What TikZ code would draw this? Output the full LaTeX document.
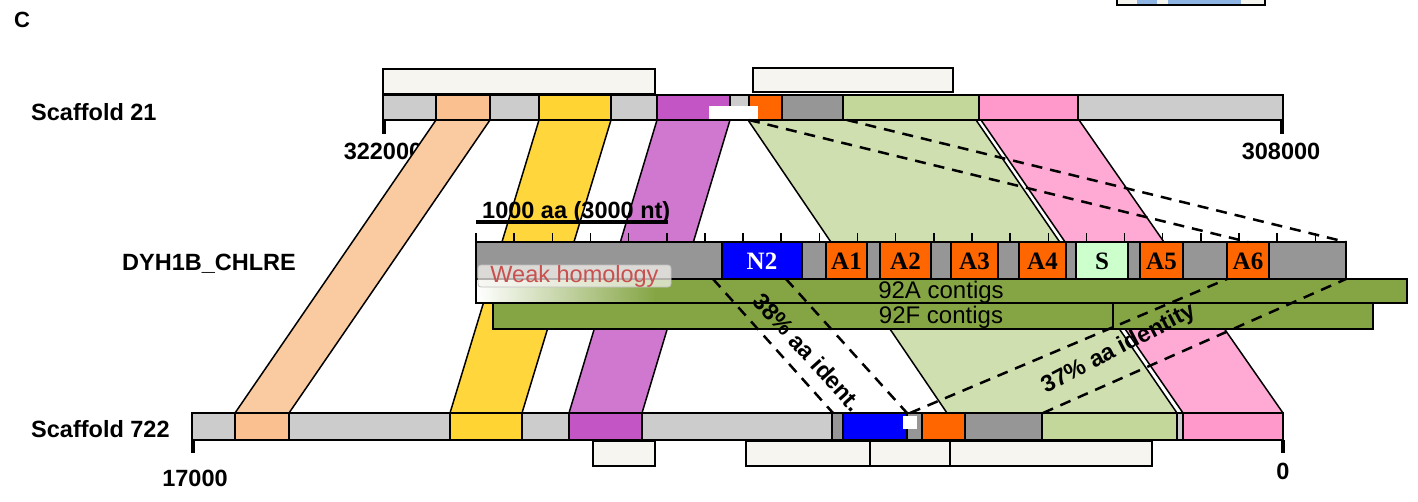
\documentclass[tikz,border=0pt]{standalone}
\usepackage{fontspec}
\setmainfont{Liberation Sans}
\newfontfamily\serifbf{Liberation Serif}
\definecolor{lgray}{HTML}{CCCCCC}
\definecolor{dgray}{HTML}{969696}
\definecolor{peachS}{HTML}{FAC090}
\definecolor{peachB}{HTML}{FACBA0}
\definecolor{yelS}{HTML}{FFD433}
\definecolor{yelB}{HTML}{FFD63C}
\definecolor{magS}{HTML}{C455C4}
\definecolor{magB}{HTML}{D078D0}
\definecolor{grnS}{HTML}{C4D79B}
\definecolor{grnB}{HTML}{D0DFB0}
\definecolor{pinkS}{HTML}{FF99CC}
\definecolor{pinkB}{HTML}{FFAAD5}
\definecolor{orng}{HTML}{FF6600}
\definecolor{blu}{HTML}{0000FF}
\definecolor{sgrn}{HTML}{CCFFCC}
\definecolor{olivec}{HTML}{85A545}
\definecolor{boxf}{HTML}{F6F5F0}
\definecolor{lblue}{HTML}{8DB4E2}
\definecolor{weakred}{HTML}{C8504F}
\begin{document}
\begin{tikzpicture}[x=1pt,y=-1pt,
  seg/.style={draw=black,line width=1.6pt},
  pseg/.style={draw=black,line width=2pt},
  band/.style={draw=black,line width=1.5pt,line join=round},
  infobox/.style={draw=black,line width=2pt,fill=boxf},
  dashln/.style={line width=2.5pt,dash pattern=on 11pt off 8pt},
  lab/.style={font=\fontsize{23.5}{28}\selectfont\bfseries,inner sep=0pt},
  domlab/.style={font=\fontsize{25}{28}\selectfont\serifbf\bfseries,inner sep=0pt},
  contlab/.style={font=\fontsize{24}{28}\selectfont,inner sep=0pt},
  tickln/.style={line width=4pt}]
\useasboundingbox (0,0) rectangle (1418,501);
\clip (0,0) rectangle (1418,501);

% partial box of another panel (top right)
\draw[seg,fill=boxf] (1117,-8) rectangle (1265,5);
\fill[lblue] (1137,-8) rectangle (1157,3.8);
\fill[lblue] (1168,-8) rectangle (1241,3.8);

% info boxes
\draw[infobox] (383,69) rectangle (655,94);
\draw[infobox] (753,68) rectangle (953,92);
\draw[infobox] (593,441) rectangle (655,466);
\draw[infobox] (746,441) rectangle (870,466);
\draw[infobox] (870,441) rectangle (950,466);
\draw[infobox] (950,441) rectangle (1152,466);

% labels under the bands
\node[lab,anchor=base] (n322) at (383,159) {322000};
\node[lab,anchor=base] (n308) at (1281,159) {308000};

% bands
\filldraw[band,fill=peachB] (436,120) -- (490,120) -- (289,413) -- (235,413) -- cycle;
\filldraw[band,fill=yelB] (539,120) -- (611,120) -- (522,413) -- (450,413) -- cycle;
\filldraw[band,fill=magB] (657,120) -- (730,120) -- (642,413) -- (569,413) -- cycle;
\filldraw[band,fill=grnB] (748,120) -- (976,120) -- (1177,413) -- (947,413) -- cycle;
\filldraw[band,fill=pinkB] (981,120) -- (1079,120) -- (1283,413) -- (1183,413) -- cycle;

% scaffold 21
\foreach \a/\b/\c in {383/436/lgray,436/490/peachS,490/539/lgray,539/611/yelS,611/657/lgray,657/730/magS,730/749/lgray,749/782/orng,782/843/dgray,843/979/grnS,979/1078/pinkS,1078/1283/lgray}
  \draw[seg,fill=\c] (\a,95) rectangle (\b,120);
\draw[line width=2.8pt] (749,95) rectangle (843,120);
\fill[white] (709,106) rectangle (758,119);
\draw[tickln] (384,120) -- (384,134);
\draw[tickln] (1282,120) -- (1282,134);

% scaffold 722
\foreach \a/\b/\c in {192/235/lgray,235/289/peachS,289/450/lgray,450/522/yelS,522/569/lgray,569/642/magS,642/832/lgray,832/843/dgray,843/907/blu,907/922/dgray,922/965/orng,965/1042/dgray,1042/1177/grnS,1177/1183/lgray,1183/1283/pinkS}
  \draw[seg,fill=\c] (\a,413) rectangle (\b,440);
\draw[line width=2.8pt] (832,413) rectangle (1042,440);
\fill[white] (903,415.5) rectangle (917,429);
\draw[tickln] (193,440) -- (193,453);
\draw[tickln] (1283,440) -- (1283,453);

% protein bar
\foreach \i in {0,...,22}
  \draw[line width=1.5pt] ({476+\i*38.15},233) -- ({476+\i*38.15},242);
\draw[line width=3.5pt] (476,222) -- (668,222);
\foreach \a/\b/\c in {476/722/dgray,722/802/blu,802/826/dgray,826/867/orng,867/880/dgray,880/931/orng,931/951/dgray,951/998/orng,998/1019/dgray,1019/1066/orng,1066/1076/dgray,1076/1128/sgrn,1128/1140/dgray,1140/1183/orng,1183/1227/dgray,1227/1269/orng,1269/1346/dgray}
  \draw[pseg,fill=\c] (\a,242) rectangle (\b,279);
\node[domlab,text=white] (dN2) at (762,261) {N2};
\node[domlab] (dA1) at (846.5,261) {A1};
\node[domlab] (dA2) at (905.5,261) {A2};
\node[domlab] (dA3) at (974.5,261) {A3};
\node[domlab] (dA4) at (1042.5,261) {A4};
\node[domlab] (dS) at (1102,261) {S};
\node[domlab] (dA5) at (1161.5,261) {A5};
\node[domlab] (dA6) at (1248,261) {A6};

% contigs
\draw[line width=2.2pt,fill=olivec] (476,279) rectangle (1407,303);
\shade[left color=white,right color=olivec] (477.2,280.2) rectangle (655,301.8);
\draw[line width=2.2pt,fill=olivec] (493,303) rectangle (1373,329);
\draw[line width=2.2pt] (1113,303) -- (1113,329);
\node[contlab] (c92a) at (941,292) {92A contigs};
\node[contlab] (c92f) at (941,317) {92F contigs};

% weak homology
\node[draw=black!25,line width=0.8pt,fill=boxf,fill opacity=0.72,text opacity=1,rounded corners=3pt,
  minimum width=193pt,minimum height=22pt,inner sep=0pt,text=weakred,
  font=\fontsize{23.5}{28}\selectfont] (weak) at (574.5,276) {Weak homology};

% dashed connectors
\coordinate (t1) at (749,120); \coordinate (p1) at (1248,242);
\coordinate (t2) at (847,120); \coordinate (p2) at (1346,242);
\coordinate (n1) at (713,279); \coordinate (b1) at (833,413);
\coordinate (n2) at (786,279); \coordinate (b2) at (907,413);
\coordinate (b3) at (910,413); \coordinate (a6) at (1227,279);
\coordinate (b4) at (1043,413); \coordinate (pe) at (1346,279);
\draw[dashln] (t1) -- (p1);
\draw[dashln] (t2) -- (p2);
\draw[dashln] (n1) -- (b1);
\draw[dashln] (n2) -- (b2);
\draw[dashln] (b3) -- (a6);
\draw[dashln] (b4) -- (pe);

\node[lab,rotate=-48] (id38) at (808,352) {38\% aa ident.};
\node[lab,rotate=27.5] (id37) at (1119,349) {37\% aa identity};

% labels
\node[lab,font=\fontsize{22}{26}\selectfont\bfseries] (C) at (22,20) {C};
\node[lab,anchor=base west] (s21) at (31,120) {Scaffold 21};
\node[lab,anchor=base west] (s722) at (31,437) {Scaffold 722};
\node[lab,anchor=base west] (dyh) at (122,270) {DYH1B\_CHLRE};
\node[lab,anchor=base west] (scale) at (482,218) {1000 aa (3000 nt)};
\node[lab,anchor=base] (n17) at (195,486) {17000};
\node[lab,anchor=base] (n0) at (1283,479) {0};
\end{tikzpicture}
\end{document}
